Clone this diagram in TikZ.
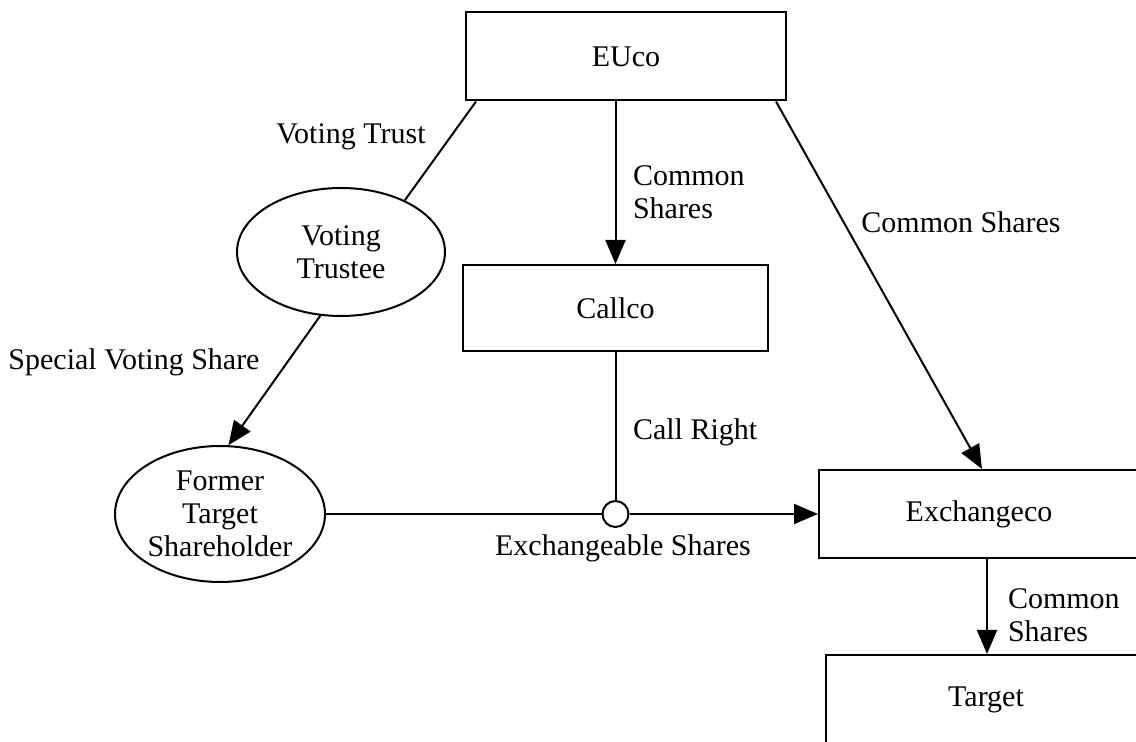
\documentclass[tikz,border=0pt]{standalone}
\usepackage{fontspec}
\setmainfont{Liberation Serif}
\usetikzlibrary{shapes.geometric,arrows.meta}

\begin{document}
\begin{tikzpicture}[x=0.5pt,y=-0.5pt,line width=1pt,
    >={Triangle[length=12pt,width=10pt]},
    every node/.style={font=\fontsize{15}{16.5}\selectfont},
    firm/.style={draw,rectangle,minimum height=44pt},
    holder/.style={draw,ellipse,align=center,inner sep=0pt},
    lbl/.style={inner sep=0pt,align=left}]
   \useasboundingbox (0,0) rectangle (1136,742);
   \clip (0,0) rectangle (1136,742);
   \node[firm, minimum width=160pt] (EUco) at (626,56.5) {EUco};
   \node[firm, minimum width=152.5pt, minimum height=43pt] (Callco) at (615.5,308) {Callco};
   \node[firm, minimum width=160pt] (Exchangeco) at (979,514) {Exchangeco};
   \node[firm, minimum width=160pt, minimum height=45pt] (Target) at (986,700) {Target};
   \node[holder, minimum width=104pt, minimum height=64pt] (Trustee) at (341,252) {Voting\\Trustee};
   \node[holder, minimum width=105pt, minimum height=68pt] (Former) at (220,514) {Former\\Target\\Shareholder};
   \node[draw, circle, minimum size=13pt, inner sep=0pt] (jn) at (Callco.south |- Former) {};
   % connectors
   \draw ([xshift=5.5pt]EUco.south west) -- (Trustee.39);
   \draw[->] (Trustee.252) -- (Former.83);
   \draw[->] (EUco.south -| Callco.north) -- (Callco.north);
   \draw[->] ([xshift=-5.5pt]EUco.south east) -- ([xshift=1.5pt]Exchangeco.north);
   \draw (Callco) -- (jn);
   \draw (Former) -- (jn);
   \draw[->] (jn) -- (Exchangeco);
   \draw[->] ([xshift=4pt]Exchangeco.south) -- ([xshift=4pt]Exchangeco.south |- Target.north);
   % labels
   \node[lbl] (trust) at (351,137) {Voting Trust};
   \node[lbl, anchor=west] (commonA) at (632,192) {Common\\Shares};
   \node[lbl] (commonB) at (961,222) {Common Shares};
   \node[lbl] (special) at (134,362) {Special Voting Share};
   \node[lbl, anchor=west] (callright) at (632,432) {Call Right};
   \node[lbl] (exchshares) at (623,548) {Exchangeable Shares};
   \node[lbl, anchor=west] (commonC) at (1007,615) {Common\\Shares};
\end{tikzpicture}
\end{document}
